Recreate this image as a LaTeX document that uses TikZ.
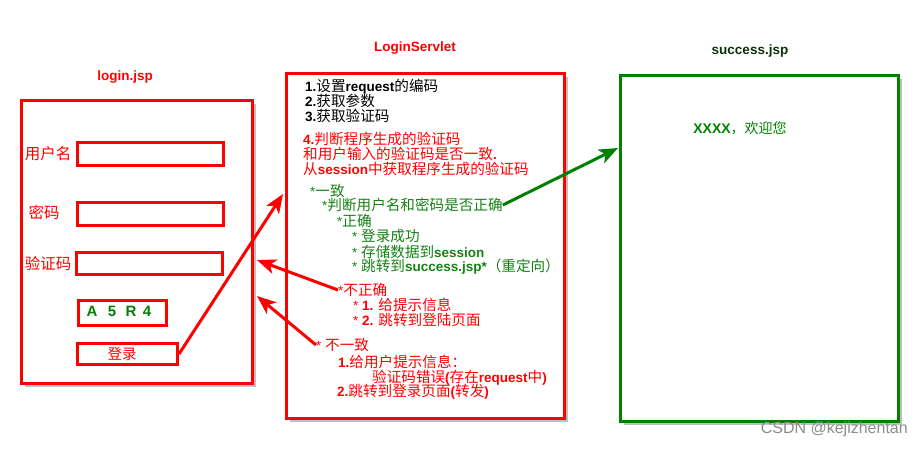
\documentclass[tikz,border=0pt]{standalone}
\usepackage{fontspec}
\setmainfont{Liberation Sans}
\newfontfamily\cjk{Noto Sans CJK SC}
\usetikzlibrary{arrows.meta,shadows}
\definecolor{rd}{RGB}{255,0,0}
\definecolor{gr}{RGB}{0,128,0}
\definecolor{gt}{RGB}{20,130,20}
\definecolor{dg}{RGB}{10,50,10}
\newcommand\zh[1]{{\fontsize{14.6}{15}\cjk #1}}
\newcommand\fs{\fontsize{13.5}{15}\selectfont}
\tikzset{
  bx/.style={draw=rd, line width=3pt, fill=white, inner sep=0pt,
    drop shadow={shadow xshift=3pt, shadow yshift=-3pt, fill=black!25, opacity=1}},
  gbx/.style={bx, draw=gr, line width=3.5pt},
  fld/.style={draw=rd, line width=3pt, fill=white, inner sep=0pt},
  ln/.style={anchor=west, inner sep=0pt, font=\fs},
  ttl/.style={inner sep=1pt, font=\fontsize{13.5}{15}\selectfont\bfseries},
  lbl/.style={inner sep=0pt, text=rd, font=\fontsize{15.5}{16}\selectfont\cjk},
  capch/.style={inner sep=0pt, text=gr, font=\fontsize{15}{16}\selectfont\bfseries},
  rarr/.style={draw=rd, line width=3pt, -{Stealth[length=19pt,width=15pt,inset=5pt]}},
  garr/.style={draw=gr, line width=3pt, -{Stealth[length=19pt,width=15pt,inset=5pt]}},
}
\begin{document}
\begin{tikzpicture}[x=1pt,y=-1pt]
\useasboundingbox (0,0) rectangle (924,450);
% titles
\node[ttl, text=rd] (t1) at (125,77) {login.jsp};
\node[ttl, text=rd] (t2) at (415,48) {LoginServlet};
\node[ttl, text=dg] (t3) at (750,51) {success.jsp};
% login page
\node[bx, minimum width=231pt, minimum height=283pt] (login) at (137,242) {};
\node[fld, minimum width=146pt, minimum height=23pt] (f1) at (150.5,154) {};
\node[fld, minimum width=146pt, minimum height=23pt] (f2) at (150.5,214) {};
\node[fld, minimum width=146pt, minimum height=22pt] (f3) at (149.5,263.5) {};
\node[fld, minimum width=88pt, minimum height=25pt] (f4) at (122.5,313) {};
\node[fld, minimum width=100pt, minimum height=21pt] (f5) at (127.5,354) {};
\node[lbl] (l1) at (48,154) {用户名};
\node[lbl] (l2) at (44,213) {密码};
\node[lbl] (l3) at (48,264) {验证码};
\node[capch] (c1) at (92,311) {A};
\node[capch] (c2) at (112,311) {5};
\node[capch] (c3) at (131,311) {R};
\node[capch] (c4) at (147,311) {4};
\node[lbl, font=\fontsize{14.5}{16}\selectfont\cjk] (l5) at (122,354) {登录};
% servlet
\node[bx, minimum width=278pt, minimum height=345pt] (srv) at (425.5,246) {};
\node[ln] (s1) at (305,87) {\textbf{1.}\zh{设置}\textbf{request}\zh{的编码}};
\node[ln] (s2) at (305,101) {\textbf{2.}\zh{获取参数}};
\node[ln] (s3) at (305,116) {\textbf{3.}\zh{获取验证码}};
\node[ln, text=rd] (s4) at (303,139) {\textbf{4.}\zh{判断程序生成的验证码}};
\node[ln, text=rd] (s5) at (303,154) {\zh{和用户输入的验证码是否一致}\textbf{.}};
\node[ln, text=rd] (s6) at (303,169) {\zh{从}\textbf{session}\zh{中获取程序生成的验证码}};
\node[ln, text=gt] (g1) at (310,191) {*\zh{一致}};
\node[ln, text=gt] (g2) at (322,205) {*\zh{判断用户名和密码是否正确}};
\node[ln, text=gt] (g3) at (337,221) {*\zh{正确}};
\node[ln, text=gt] (g4) at (352,236) {* \zh{登录成功}};
\node[ln, text=gt] (g5) at (352,252) {* \zh{存储数据到}\textbf{session}};
\node[ln, text=gt] (g6) at (352,267) {* \zh{跳转到}\textbf{success.jsp*}\zh{（重定向）}};
\node[ln, text=rd] (r1) at (338,290) {*\zh{不正确}};
\node[ln, text=rd] (r2) at (353,305) {* \textbf{1.} \zh{给提示信息}};
\node[ln, text=rd] (r3) at (353,320) {* \textbf{2.} \zh{跳转到登陆页面}};
\node[ln, text=rd] (n1) at (316,345) {* \zh{不一致}};
\node[ln, text=rd] (n2) at (338,362) {\textbf{1.}\zh{给用户提示信息：}};
\node[ln, text=rd] (n3) at (372,378) {\zh{验证码错误}\textbf{(}\zh{存在}\textbf{request}\zh{中}\textbf{)}};
\node[ln, text=rd] (n4) at (337,392) {\textbf{2.}\zh{跳转到登录页面}\textbf{(}\zh{转发}\textbf{)}};
% success page
\node[gbx, minimum width=278pt, minimum height=346pt] (succ) at (759.5,248.5) {};
\node[inner sep=0pt, text=gr, font=\fontsize{14}{15}\selectfont] (w) at (740,128) {\textbf{XXXX}{\cjk ，欢迎您}};
% watermark
\node[inner sep=0pt, anchor=east, text=black!45, font=\fontsize{16}{18}\selectfont] (wm) at (908,429) {CSDN @kejizhentan};
% arrows
\coordinate (a1) at (283,194);
\coordinate (a2) at (257,260);
\coordinate (a3) at (257,296);
\coordinate (a4) at (618,148);
\draw[rarr] (f5.east) -- (a1);
\draw[rarr] (r1.west) -- (a2);
\draw[rarr] (n1.west) -- (a3);
\draw[garr] (g2.east) -- (a4);
\end{tikzpicture}
\end{document}
